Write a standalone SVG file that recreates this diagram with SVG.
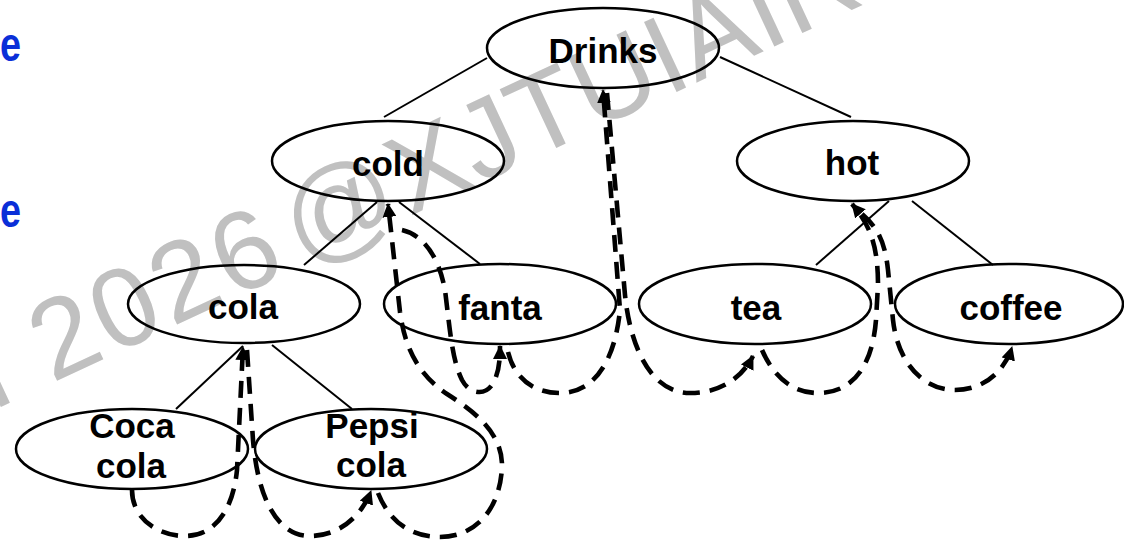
<svg xmlns="http://www.w3.org/2000/svg" width="1124" height="542" viewBox="0 0 1124 542">
  <style>
    .node ellipse { fill: none; stroke: #000000; stroke-width: 2.5; }
    .label { font-family: "Liberation Sans", Arial, sans-serif; font-weight: bold; font-size: 35px; text-anchor: middle; fill: #000000; }
    .edge { stroke: #000000; stroke-width: 2; fill: none; }
    .thread { stroke: #000000; stroke-width: 4.6; fill: none; stroke-dasharray: 17 10; marker-end: url(#head); }
    .side { font-family: "Liberation Sans", Arial, sans-serif; font-weight: bold; font-size: 48px; fill: #0a2fd8; }
    .mark { font-family: "Liberation Sans", Arial, sans-serif; font-size: 112px; letter-spacing: 4px; fill: #c0c0c0; }
    .mark .tail { letter-spacing: 1px; }
  </style>
  <defs>
    <marker id="head" viewBox="0 0 14 14" refX="13" refY="7" markerWidth="14" markerHeight="14" markerUnits="userSpaceOnUse" orient="auto">
      <path d="M0,0 L14,7 L0,14 z" fill="#000000"/>
    </marker>
  </defs>

  <rect width="1124" height="542" fill="#ffffff"/>

  <!-- watermark, under everything else -->
  <text class="mark" transform="translate(-40,426) rotate(-25)">n 2026<tspan dx="12">@</tspan><tspan class="tail">XJTUIAIR</tspan></text>

  <!-- cut-off words at the left margin -->
  <text class="side" x="0" y="61" textLength="21" lengthAdjust="spacingAndGlyphs">e</text>
  <text class="side" x="0" y="227" textLength="21" lengthAdjust="spacingAndGlyphs">e</text>

  <!-- tree edges -->
  <g id="edges">
    <line class="edge" x1="487" y1="58" x2="384" y2="117"/>
    <line class="edge" x1="720" y1="57" x2="851" y2="117"/>
    <line class="edge" x1="377" y1="202" x2="304" y2="265"/>
    <line class="edge" x1="399" y1="202" x2="480" y2="264"/>
    <line class="edge" x1="889" y1="201" x2="816" y2="265"/>
    <line class="edge" x1="912" y1="201" x2="993" y2="265"/>
    <line class="edge" x1="243" y1="346" x2="176" y2="409"/>
    <line class="edge" x1="272" y1="345" x2="352" y2="409"/>
  </g>

  <!-- nodes -->
  <g id="drinks" class="node">
    <ellipse cx="603" cy="48" rx="116" ry="40"/>
    <text class="label" x="603" y="63">Drinks</text>
  </g>
  <g id="cold" class="node">
    <ellipse cx="388" cy="161" rx="116" ry="40"/>
    <text class="label" x="388" y="176">cold</text>
  </g>
  <g id="hot" class="node">
    <ellipse cx="853" cy="161" rx="116" ry="40"/>
    <text class="label" x="852" y="175">hot</text>
  </g>
  <g id="cola" class="node">
    <ellipse cx="244" cy="304" rx="116" ry="39"/>
    <text class="label" x="243" y="319">cola</text>
  </g>
  <g id="fanta" class="node">
    <ellipse cx="500" cy="304" rx="116" ry="40"/>
    <text class="label" x="500" y="320">fanta</text>
  </g>
  <g id="tea" class="node">
    <ellipse cx="755" cy="304" rx="116" ry="40"/>
    <text class="label" x="756" y="320">tea</text>
  </g>
  <g id="coffee" class="node">
    <ellipse cx="1009" cy="304" rx="114" ry="40"/>
    <text class="label" x="1011" y="320">coffee</text>
  </g>
  <g id="coca-cola" class="node">
    <ellipse cx="132" cy="449" rx="116" ry="40"/>
    <text class="label" x="132" y="438">Coca</text>
    <text class="label" x="131" y="478">cola</text>
  </g>
  <g id="pepsi-cola" class="node">
    <ellipse cx="371" cy="449" rx="116" ry="40"/>
    <text class="label" x="372" y="438">Pepsi</text>
    <text class="label" x="371" y="477">cola</text>
  </g>

  <!-- in-order threads (dashed) -->
  <g id="threads">
    <path class="thread" d="M132,490 C132,520 160,536 185,536 C215,536 233,510 237,470 L243,347"/>
    <path class="thread" d="M247,350 L253,440 C258,500 278,536 310,536 C340,536 362,515 371,491"/>
    <path class="thread" d="M378,493 C392,528 418,537 440,537 C475,537 500,510 502,467 C503,432 472,410 447,394 C420,376 405,350 400,312 L388,204"/>
    <path class="thread" d="M402,230 C420,234 438,252 445,290 C450,330 452,360 462,380 C470,395 485,395 492,385 C498,375 500,365 500,346"/>
    <path class="thread" d="M508,352 C515,380 535,393 560,393 C595,393 615,360 620,310 L603,90"/>
    <path class="thread" d="M607,93 L625,295 C630,345 650,393 690,393 C720,393 742,378 753,356"/>
    <path class="thread" d="M762,350 C775,380 795,393 818,393 C850,393 872,370 876,320 L878,285 C878,245 870,225 852,204"/>
    <path class="thread" d="M862,214 C878,228 885,242 888,270 L893,320 C898,365 925,390 955,390 C985,390 1005,370 1012,347"/>
  </g>
</svg>
